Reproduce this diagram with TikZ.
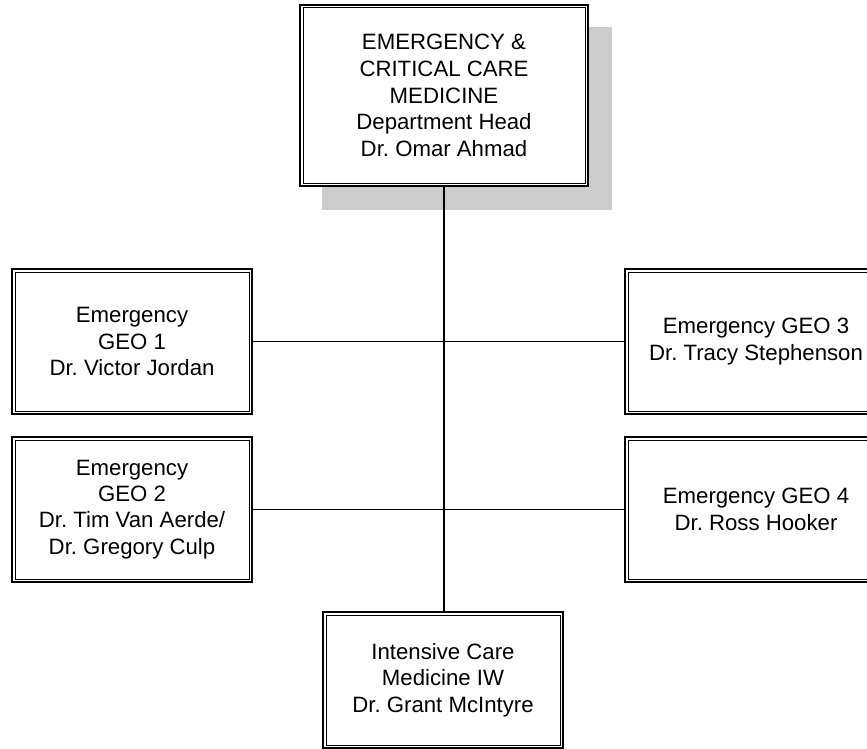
\documentclass[tikz,border=0pt]{standalone}
\usepackage{fontspec}
\setmainfont{Liberation Sans}
\frenchspacing
\definecolor{shadowgray}{HTML}{CCCCCC}
\begin{document}
\begin{tikzpicture}[x=1pt,y=-1pt,
  orgbox/.style={draw, fill=white, line width=2pt, inner sep=0pt, outer sep=0pt,
    minimum width=240pt, minimum height=145pt, align=center,
    font=\fontsize{22.2}{26.3}\selectfont},
  innerframe/.style={line width=1pt},
  link/.style={line width=1.5pt}]
\useasboundingbox (0,0) rectangle (867,749);
\clip (0,0) rectangle (867,749);
\fill[shadowgray] (322,27) rectangle (612,210);
\node[orgbox, minimum width=288pt, minimum height=181pt,
  font=\fontsize{22.2}{26.6}\selectfont] (top) at (444,95.5)
  {EMERGENCY \&\\CRITICAL CARE\\MEDICINE\\Department Head\\Dr. Omar Ahmad};
\node[orgbox] (g1) at (132,341.5) {Emergency\\GEO 1\\Dr. Victor Jordan};
\node[orgbox] (g2) at (132,509.5) {Emergency\\GEO 2\\Dr. Tim Van Aerde/\\Dr. Gregory Culp};
\node[orgbox, minimum width=262pt] (g3) at (756,341.5) {Emergency GEO 3\\Dr. Tracy Stephenson};
\node[orgbox, minimum width=262pt] (g4) at (756,509.5) {Emergency GEO 4\\Dr. Ross Hooker};
\node[orgbox, minimum height=136pt] (icu) at (443,680) {Intensive Care\\Medicine IW\\Dr. Grant McIntyre};
\foreach \n in {top,g1,g2,g3,g4,icu}{
  \draw[innerframe] ([shift={(3pt,-3pt)}]\n.north west) rectangle ([shift={(-3pt,3pt)}]\n.south east);
}
\draw[link] (top.south) -- (top.south |- icu.north);
\draw[link] (g1.east) -- (g3.west);
\draw[link] (g2.east) -- (g4.west);
\end{tikzpicture}
\end{document}
